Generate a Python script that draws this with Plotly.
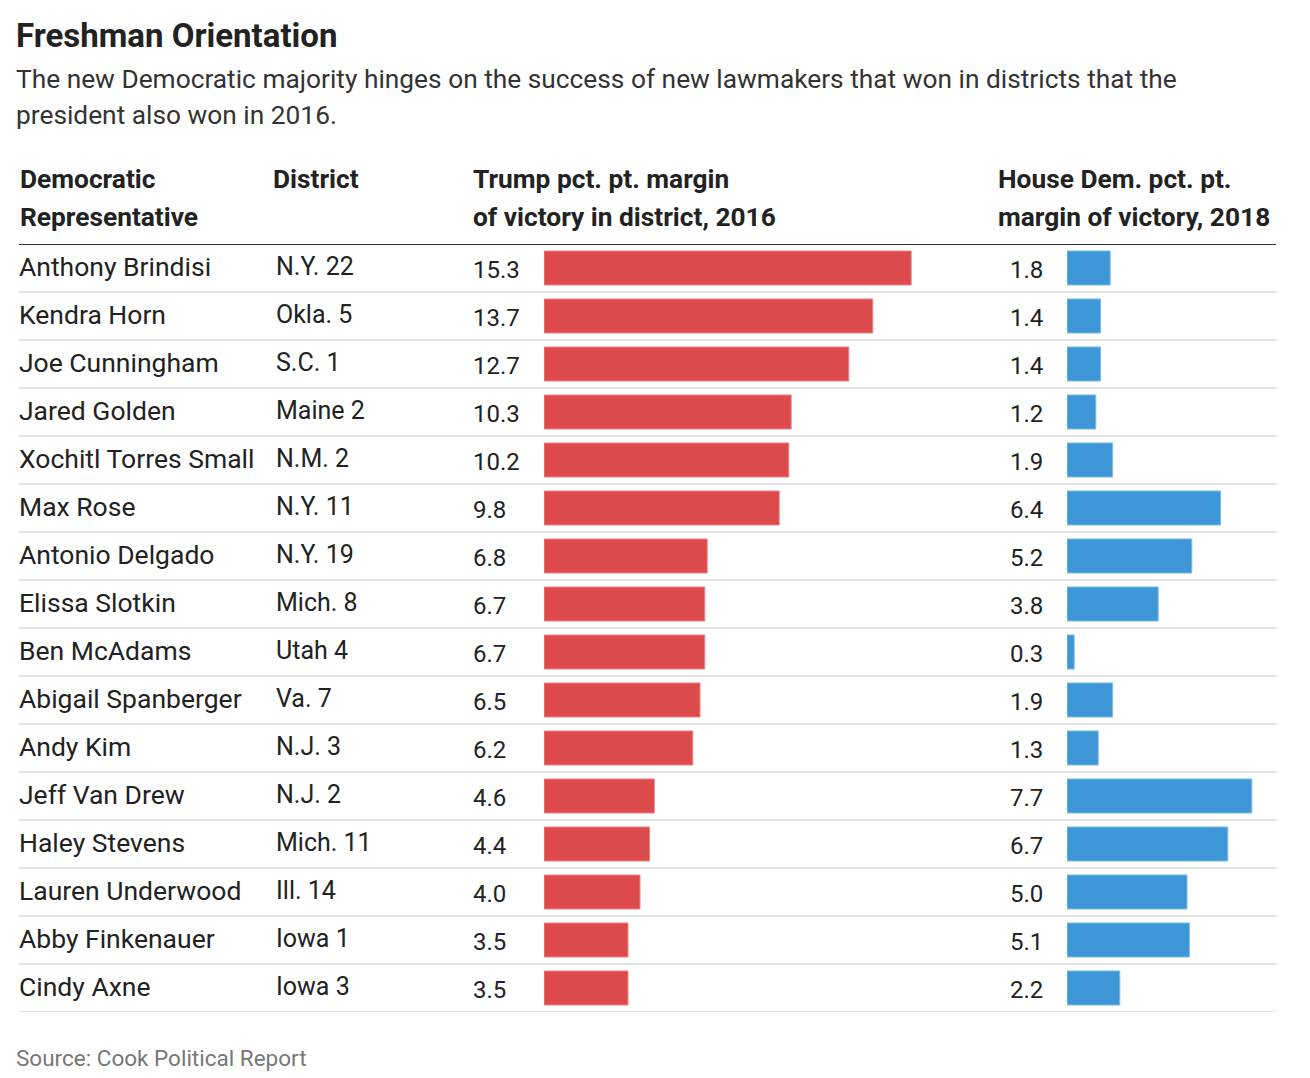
import plotly.graph_objects as go

representatives = ["Anthony Brindisi", "Kendra Horn", "Joe Cunningham", "Jared Golden",
                   "Xochitl Torres Small", "Max Rose", "Antonio Delgado", "Elissa Slotkin",
                   "Ben McAdams", "Abigail Spanberger", "Andy Kim", "Jeff Van Drew",
                   "Haley Stevens", "Lauren Underwood", "Abby Finkenauer", "Cindy Axne"]
districts = ["N.Y. 22", "Okla. 5", "S.C. 1", "Maine 2", "N.M. 2", "N.Y. 11", "N.Y. 19",
             "Mich. 8", "Utah 4", "Va. 7", "N.J. 3", "N.J. 2", "Mich. 11", "Ill. 14",
             "Iowa 1", "Iowa 3"]
trump_margin_2016 = [15.3, 13.7, 12.7, 10.3, 10.2, 9.8, 6.8, 6.7, 6.7, 6.5, 6.2, 4.6, 4.4, 4.0, 3.5, 3.5]
dem_margin_2018 = [1.8, 1.4, 1.4, 1.2, 1.9, 6.4, 5.2, 3.8, 0.3, 1.9, 1.3, 7.7, 6.7, 5.0, 5.1, 2.2]

title = "Freshman Orientation"
subtitle_lines = ["The new Democratic majority hinges on the success of new lawmakers that won in districts that the",
                  "president also won in 2016."]
headers = [(["Democratic", "Representative"], 18), (["District"], 271),
           (["Trump pct. pt. margin", "of victory in district, 2016"], 471),
           (["House Dem. pct. pt.", "margin of victory, 2018"], 996)]
source = "Source: Cook Political Report"

W, H = 1310, 1078
OFF = 8  # page body margin
RED = "#dc4a4c"
BLUE = "#3d96d6"
TXT = "#222222"
FONT = "Roboto"

def px(x):
    return (x - OFF) / W

def py(y):
    return 1 - (y - OFF) / H

fig = go.Figure()
fig.add_trace(go.Bar(x=trump_margin_2016, y=representatives, orientation="h",
                     marker=dict(color=RED, line=dict(color="#e88a8a", width=1)),
                     width=0.71, xaxis="x", yaxis="y", hoverinfo="x+y"))
fig.add_trace(go.Bar(x=dem_margin_2018, y=representatives, orientation="h",
                     marker=dict(color=BLUE, line=dict(color="#7fbbe6", width=1)),
                     width=0.71, xaxis="x2", yaxis="y", hoverinfo="x+y"))

annotations = []
annotations.append(dict(text="<b>" + title + "</b>", x=px(14), y=py(35), xref="paper", yref="paper",
                        xanchor="left", yanchor="middle", showarrow=False,
                        font=dict(family=FONT, size=33, color=TXT)))
for i, line in enumerate(subtitle_lines):
    annotations.append(dict(text=line, x=px(14), y=py(79 + 36 * i), xref="paper", yref="paper",
                            xanchor="left", yanchor="middle", showarrow=False,
                            font=dict(family=FONT, size=26.3, color="#333333")))
for lines, x in headers:
    for j, line in enumerate(lines):
        annotations.append(dict(text="<b>" + line + "</b>", x=px(x), y=py(179 + 38 * j),
                                xref="paper", yref="paper", xanchor="left", yanchor="middle",
                                showarrow=False, font=dict(family=FONT, size=26.3, color=TXT)))
for name, dist, t, d in zip(representatives, districts, trump_margin_2016, dem_margin_2018):
    for txt, x, s, ys in [(name, 17, 26.5, 2), (dist, 274, 25, 2),
                          (f"{t:.1f}", 471, 24, -2), (f"{d:.1f}", 1008, 24, -2)]:
        annotations.append(dict(text=txt, x=px(x), y=name, xref="paper", yref="y",
                                xanchor="left", yanchor="middle", showarrow=False, yshift=ys,
                                font=dict(family=FONT, size=s, color=TXT)))
annotations.append(dict(text=source, x=px(14), y=py(1058), xref="paper", yref="paper",
                        xanchor="left", yanchor="middle", showarrow=False,
                        font=dict(family=FONT, size=22.5, color="#777777")))

shapes = []
for i in range(len(representatives)):
    shapes.append(dict(type="line", xref="paper", yref="y", x0=px(19), x1=px(1276),
                       y0=i + 0.5, y1=i + 0.5, line=dict(color="#e3e3e3", width=2), layer="below"))
shapes.append(dict(type="line", xref="paper", yref="y", x0=px(19), x1=px(1276),
                   y0=-0.5, y1=-0.5, line=dict(color="#333333", width=2)))

fig.update_layout(
    width=W, height=H, margin=dict(l=0, r=0, t=0, b=0),
    paper_bgcolor="white", plot_bgcolor="white", showlegend=False, barmode="overlay",
    xaxis=dict(domain=[px(544), px(1000)], range=[0, 456 / 24], visible=False, fixedrange=True),
    xaxis2=dict(domain=[px(1067), px(1300)], range=[0, 233 / 24], visible=False, fixedrange=True),
    yaxis=dict(domain=[py(1012), py(244)], range=[15.5, -0.5], type="category",
               visible=False, fixedrange=True),
    annotations=annotations, shapes=shapes,
)

fig.write_html("out.html")
